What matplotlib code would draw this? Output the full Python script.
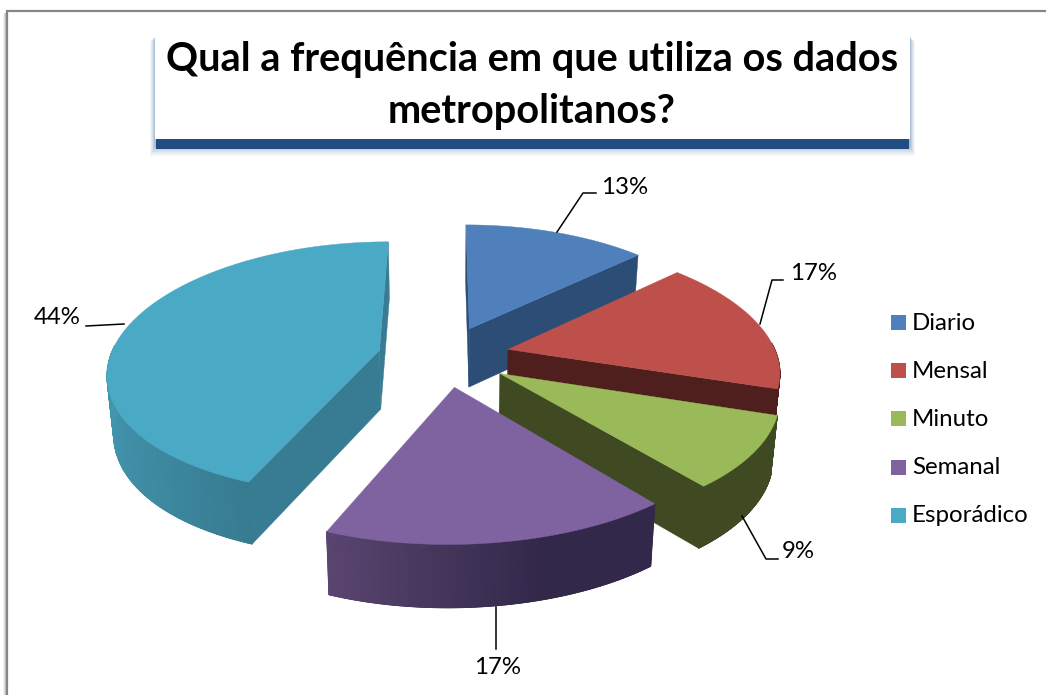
"""Exploded 3D pie: Qual a frequencia em que utiliza os dados metropolitanos."""
import matplotlib
matplotlib.use("Agg")
import matplotlib.pyplot as plt
import numpy as np
from matplotlib.colors import LinearSegmentedColormap
from matplotlib.patches import Polygon, Rectangle

categories = ["Diario", "Mensal", "Minuto", "Semanal", "Esporádico"]
shares = [13, 17, 9, 17, 44]
top_colors = ["#4F80BC", "#BE504C", "#9ABA59", "#7F63A1", "#4AA9C5"]
side_colors = ["#2C4D75", "#4F1F1D", "#3F4A22", "#3A2D52", "#377C92"]
rim_dark = ["#2C4D75", "#4F1F1D", "#3F4A22", "#32284A", "#377A90"]
rim_light = ["#2C4D75", "#4F1F1D", "#3F4A22", "#5A4570", "#4296AE"]
title_lines = ["Qual a frequência em que utiliza os dados", "metropolitanos?"]

CX, CY = 444.0, 356.0
RX, RY = 269.0, 124.0
EXPLODE = 0.246
PERSP_X, PERSP_Y = 0.16, 0.13
DEPTH = 59.0
BASE_SCALE = 0.98
SHEAR = 6.0
BULGE = 3.0

# leader line anchor points and label position per slice, in pixels
leaders = [
    [(557, 232), (583, 193), (596, 193)],
    [(760, 324), (772, 280), (783, 280)],
    [(742, 516), (766, 559), (778, 559)],
    [(496, 607), (496, 649)],
    [(124, 324), (86, 326)],
]
label_pos = [(601, 187, "left"), (790, 273, "left"), (782, 552, "left"),
             (498, 667, "center"), (81, 318, "right")]


def project(theta, radius, mid, base=False):
    """Screen position for a point on an exploded slice (theta clockwise from top)."""
    x3 = EXPLODE * np.sin(mid) + radius * np.sin(theta)
    y3 = EXPLODE * np.cos(mid) + radius * np.cos(theta)
    px = 1.0 / (1.0 + PERSP_X * y3)
    py = 1.0 / (1.0 + PERSP_Y * y3)
    front = np.minimum(y3, 0) ** 2
    x = RX * x3 * px - SHEAR * front
    y = -RY * y3 * py + BULGE * front
    if base:
        return np.column_stack([CX + x * BASE_SCALE, CY + y + DEPTH * py ** 0.4])
    return np.column_stack([CX + x, CY + y])


fig = plt.figure(figsize=(10.46, 6.95), dpi=100)
ax = fig.add_axes([0, 0, 1, 1])
ax.set_xlim(0, 1046)
ax.set_ylim(695, 0)
ax.axis("off")

# chart frame with soft shadow on the left
for i, alpha in enumerate([0.10, 0.18, 0.28]):
    ax.add_patch(Rectangle((3 + i, 13), 3 - i, 690, fc="#808080", ec="none", alpha=alpha, zorder=1))
ax.plot([7, 7, 1046], [695, 11, 11], color="#868686", lw=1.6, zorder=2, solid_joinstyle="miter")

# title box, blue shadow first
for grow, alpha in [(5, 0.06), (4, 0.08), (3, 0.10), (2, 0.14), (1, 0.2)]:
    ax.add_patch(Rectangle((155 - grow, 36 + grow), 755 + 2 * grow, 111 + grow - 1, fc="#4A76A8",
                           ec="none", alpha=alpha, zorder=3))
ax.add_patch(Rectangle((156, 135), 753, 14, fc="#214D83", ec="none", zorder=4))
ax.add_patch(Rectangle((155, 30), 755, 109, fc="white", ec="none", zorder=5))
ax.text(532, 60, title_lines[0], ha="center", va="center", fontsize=28.6, fontweight="bold",
        family="Lato", color="black", zorder=6)
ax.text(532, 112, title_lines[1], ha="center", va="center", fontsize=28.6, fontweight="bold",
        family="Lato", color="black", zorder=6)

# slice angles come from the shares
edges = np.radians(np.cumsum([0] + shares) * 3.6)
slices = []
for i in range(len(shares)):
    t0, t1 = edges[i], edges[i + 1]
    slices.append((i, t0, t1, (t0 + t1) / 2))
# back slices first: the apex further up the screen is drawn earlier
slices.sort(key=lambda s: project(0, 0, s[3])[0, 1])

z = 10
for i, t0, t1, mid in slices:
    thetas = np.linspace(t0, t1, 160)
    rim_top = project(thetas, 1.0, mid)
    rim_base = project(thetas, 1.0, mid, base=True)
    apex_top = project(0, 0, mid)
    apex_base = project(0, 0, mid, base=True)

    # radial cut faces that look toward the viewer
    if rim_top[0, 0] < apex_top[0, 0]:
        face = np.vstack([apex_top, rim_top[0], rim_base[0], apex_base])
        ax.add_patch(Polygon(face, fc=side_colors[i], ec=side_colors[i], lw=0.3, zorder=z))
    if rim_top[-1, 0] > apex_top[0, 0]:
        face = np.vstack([apex_top, rim_top[-1], rim_base[-1], apex_base])
        ax.add_patch(Polygon(face, fc=side_colors[i], ec=side_colors[i], lw=0.3, zorder=z))
    z += 1

    # outer rim: outline for a clean edge, then a smooth gradient over it
    seen = np.cos(thetas) < 0.05
    if seen.sum() > 1:
        if i == 4:
            shade = np.clip((np.abs(np.sin(thetas[seen])) - 0.35) / 0.65, 0, 1)
        else:
            shade = np.clip((thetas[seen] - t0) / (t1 - t0) * 1.6 - 0.6, 0, 1)
        outline = np.vstack([rim_top[seen], rim_base[seen][::-1]])
        ax.add_patch(Polygon(outline, fc=rim_dark[i], ec=rim_dark[i], lw=0.5, zorder=z))
        cmap = LinearSegmentedColormap.from_list("rim", [rim_dark[i], rim_light[i]])
        xx = np.vstack([rim_top[seen][:, 0], rim_base[seen][:, 0]])
        yy = np.vstack([rim_top[seen][:, 1], rim_base[seen][:, 1]])
        ax.pcolormesh(xx, yy, np.vstack([shade, shade]), shading="gouraud", cmap=cmap,
                      vmin=0, vmax=1, zorder=z)
    z += 1

    top = np.vstack([apex_top, rim_top])
    ax.add_patch(Polygon(top, fc=top_colors[i], ec=top_colors[i], lw=0.3, zorder=z))
    z += 1

# leaders and percentage labels
for i, pts in enumerate(leaders):
    xs, ys = zip(*pts)
    ax.plot(xs, ys, color="black", lw=1.1, zorder=z)
    x, y, ha = label_pos[i]
    ax.text(x, y, f"{shares[i]}%", ha=ha, va="center", fontsize=17.3, family="Lato",
            color="black", zorder=z)

# legend
for i, name in enumerate(categories):
    y = 315 + 48.2 * i
    ax.add_patch(Rectangle((891, y), 15, 15, fc=top_colors[i], ec="none", zorder=z))
    ax.text(912, y + 8, name, ha="left", va="center", fontsize=17.3, family="Lato",
            color="black", zorder=z)

fig.savefig("out.png", dpi=100)
plt.close(fig)
